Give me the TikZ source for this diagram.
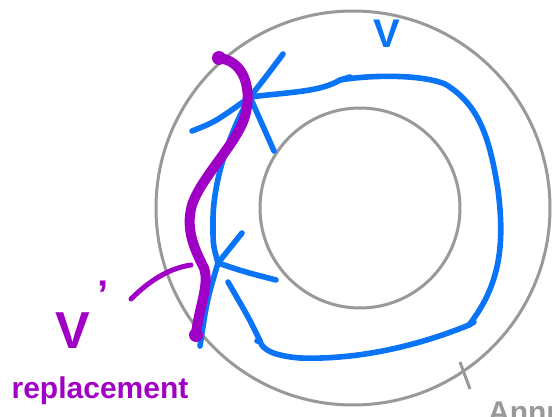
\documentclass[tikz,border=0pt]{standalone}
\usepackage{fontspec}
\setmainfont{Liberation Sans}
\usepackage{tikz}
\usetikzlibrary{positioning, calc}
\definecolor{cRing}   {HTML}{999999}
\definecolor{cPathV}  {HTML}{0A74F7}
\definecolor{cRepl}   {HTML}{A000C6}

\tikzset{
  ring/.style   = {draw=cRing, line width=3pt},
  vpath/.style  = {draw=cPathV, line width=5.6pt, line cap=round, line join=round},
  repl/.style   = {draw=cRepl, line width=10pt, line cap=round, line join=round},
  pointer/.style= {draw=cRepl, line width=5pt, line cap=round},
  lbl/.style    = {font=\bfseries, inner sep=0pt},
}

\begin{document}
\begin{tikzpicture}[x=1pt, y=-1pt]
  \useasboundingbox (0,0) rectangle (552,417);

  % the annulus
  \coordinate (ctr) at (353,208);
  \draw[ring] (ctr) circle [radius=197];
  \draw[ring] (360,208) circle [radius=100];
  \draw[ring] (460,362) -- (470,389);
  \node[lbl, text=cRing, font=\bfseries\fontsize{30}{30}\selectfont, anchor=north west]
        (annlabel) at (488,401) {Annulus};

  % hubs of the path V
  \coordinate (hubTop) at (250,97);
  \coordinate (hubLow) at (218,263);
  \coordinate (loopIn) at (340,80);
  \coordinate (loopOut) at (469,325);
  \coordinate (botIn) at (260,341);

  % spokes at the top hub
  \draw[vpath] (192,131) .. controls (215,122) .. (hubTop);
  \draw[vpath] (hubTop) .. controls (265,78) .. (283,54);
  \draw[vpath] (hubTop) -- (274,151);
  \draw[vpath] (hubTop) .. controls (290,92) and (320,92) .. (loopIn)
               -- ++(10,-3);

  % the big loop round the hole
  \draw[vpath] (loopIn) .. controls (370,75) and (420,74) .. (445,84)
               .. controls (480,105) and (490,140) .. (498,190)
               .. controls (505,245) and (500,285) .. (loopOut)
               -- ++(5,-3);
  \draw[vpath] (loopOut) .. controls (420,345) and (360,360) .. (300,358)
               .. controls (275,356) and (262,350) .. (botIn)
               -- ++(-3,0);
  \draw[vpath] (botIn) .. controls (250,320) .. (228,282);

  % link between the hubs and spokes at the lower hub
  \draw[vpath] (hubTop) .. controls (228,135) and (212,185) .. (213,225)
               .. controls (213,245) .. (hubLow);
  \draw[vpath] (hubLow) -- (242,233);
  \draw[vpath] (hubLow) .. controls (245,272) .. (276,280);
  \draw[vpath] (hubLow) .. controls (207,300) .. (200,346);

  % the replacement V'
  \coordinate (replTop) at (219,58);
  \coordinate (replBot) at (196,335);
  \draw[repl] (replTop) .. controls (250,62) and (252,100) .. (243,122)
              .. controls (232,148) and (200,180) .. (192,205)
              .. controls (185,230) and (195,250) .. (204,268)
              .. controls (210,285) and (198,310) .. (replBot);
  \fill[cRepl] (replTop) circle [radius=7];
  \fill[cRepl] (replBot) circle [radius=7];
  \coordinate (ptrEnd) at (191,265);
  \draw[pointer] (131,299) .. controls (150,280) and (170,268) .. (ptrEnd);

  % labels
  \node[lbl, text=cPathV, font=\bfseries\fontsize{40}{40}\selectfont] (vlabel) at (387,34) {V};
  \node[lbl, text=cRepl, font=\bfseries\fontsize{52}{52}\selectfont] (vprime) at (73,331) {V};
  \node[lbl, text=cRepl, font=\bfseries\fontsize{40}{40}\selectfont, anchor=north west] (primemark) at (97,281) {'};
  \node[lbl, text=cRepl, font=\bfseries\fontsize{30}{30}\selectfont] (repllabel) at (100,391) {replacement};
\end{tikzpicture}
\end{document}
